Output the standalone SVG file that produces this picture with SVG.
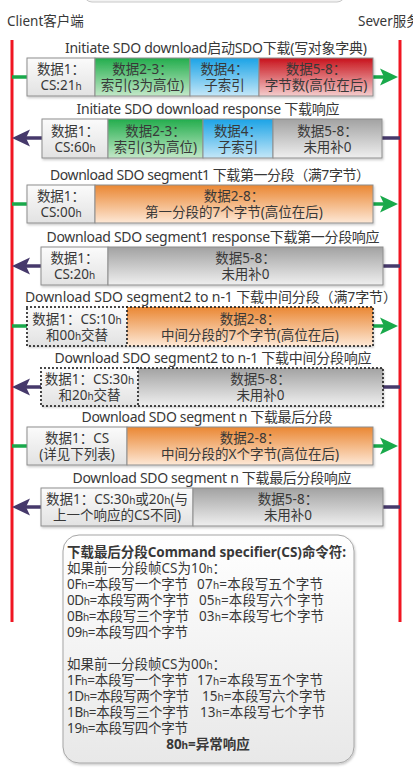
<svg xmlns="http://www.w3.org/2000/svg" width="413" height="771" viewBox="0 0 413 771">
<defs>
  <linearGradient id="gWhite" x1="0" y1="0" x2="0" y2="1"><stop offset="0" stop-color="#fbfbfb"/><stop offset="1" stop-color="#e2e2e2"/></linearGradient>
  <linearGradient id="gGreen" x1="0" y1="0" x2="0" y2="1"><stop offset="0" stop-color="#22ad4c"/><stop offset="1" stop-color="#c3e8c8"/></linearGradient>
  <linearGradient id="gBlue" x1="0" y1="0" x2="0" y2="1"><stop offset="0" stop-color="#1ba3e6"/><stop offset="1" stop-color="#c4e7f8"/></linearGradient>
  <linearGradient id="gRed" x1="0" y1="0" x2="0" y2="1"><stop offset="0" stop-color="#c8121b"/><stop offset="1" stop-color="#f4cccc"/></linearGradient>
  <linearGradient id="gOrange" x1="0" y1="0" x2="0" y2="1"><stop offset="0" stop-color="#ea8733"/><stop offset="1" stop-color="#fde8d6"/></linearGradient>
  <linearGradient id="gGrey" x1="0" y1="0" x2="0" y2="1"><stop offset="0" stop-color="#a2a2a2"/><stop offset="1" stop-color="#efefef"/></linearGradient>
  <linearGradient id="gNote" x1="0" y1="0" x2="0" y2="1"><stop offset="0" stop-color="#ffffff"/><stop offset="1" stop-color="#e8e8e8"/></linearGradient>
  <filter id="sh" x="-5%" y="-10%" width="110%" height="130%"><feDropShadow dx="1" dy="1.5" stdDeviation="1" flood-color="#000" flood-opacity="0.22"/></filter>
  <marker id="headReq" markerUnits="userSpaceOnUse" markerWidth="18" markerHeight="18" refX="4" refY="9" orient="auto"><path d="M0,0.5 L18,9 L0,17.5 L4,9 Z" fill="#19a94b"/></marker>
  <marker id="headRsp" markerUnits="userSpaceOnUse" markerWidth="18" markerHeight="18" refX="4" refY="9" orient="auto"><path d="M0,0.5 L18,9 L0,17.5 L4,9 Z" fill="#46396b"/></marker>
</defs>
<style>
  text{font-family:"Noto Sans","Noto Sans CJK SC",sans-serif;fill:#383838}
  .lbl{font-size:13.5px}
  .t{font-size:14px;text-anchor:middle}
  .c{font-size:13.5px;text-anchor:middle}
  .h{font-size:10px}
  .n{font-size:13.5px}
  .b{font-weight:bold}
  .cell{stroke:#8e8e8e;stroke-width:1}
  .dot{fill:none;stroke:#1e1e1e;stroke-width:2.2;stroke-dasharray:0 4;stroke-linecap:round}
  .life{stroke:#f01622;stroke-width:3}
  .req{stroke:#19a94b;stroke-width:3.5;fill:none}
  .rsp{stroke:#46396b;stroke-width:3.5;fill:none}
</style>

<!-- panel edge peeking in at the top -->
<rect x="84" y="-20" width="261" height="22" rx="8" fill="#f3f3f3" stroke="#c8c8c8"/>

<!-- participants -->
<g id="client">
  <text class="lbl" x="7" y="26">Client客户端</text>
  <line class="life" x1="12" y1="40" x2="12" y2="622"/>
</g>
<g id="server">
  <text class="lbl" x="358" y="26">Sever服务</text>
  <line class="life" x1="400" y1="40" x2="400" y2="622"/>
</g>

<!-- message connectors -->
<g id="connectors">
  <line class="req" x1="12" y1="77" x2="27" y2="77"/>
  <line class="req" x1="373" y1="77" x2="384" y2="77" marker-end="url(#headReq)"/>
  <line class="rsp" x1="400" y1="138" x2="382" y2="138"/>
  <line class="rsp" x1="42" y1="138" x2="26" y2="138" marker-end="url(#headRsp)"/>
  <line class="req" x1="12" y1="204" x2="27" y2="204"/>
  <line class="req" x1="373" y1="204" x2="384" y2="204" marker-end="url(#headReq)"/>
  <line class="rsp" x1="400" y1="266" x2="383" y2="266"/>
  <line class="rsp" x1="41" y1="266" x2="26" y2="266" marker-end="url(#headRsp)"/>
  <line class="req" x1="12" y1="326" x2="27" y2="326"/>
  <line class="req" x1="373" y1="326" x2="384" y2="326" marker-end="url(#headReq)"/>
  <line class="rsp" x1="400" y1="387" x2="383" y2="387"/>
  <line class="rsp" x1="41" y1="387" x2="26" y2="387" marker-end="url(#headRsp)"/>
  <line class="req" x1="12" y1="446" x2="27" y2="446"/>
  <line class="req" x1="373" y1="446" x2="384" y2="446" marker-end="url(#headReq)"/>
  <line class="rsp" x1="400" y1="507" x2="383" y2="507"/>
  <line class="rsp" x1="41" y1="507" x2="26" y2="507" marker-end="url(#headRsp)"/>
</g>

<!-- Initiate SDO download -->
<g id="initiate-download">
  <text class="t" x="216" y="53" textLength="302">Initiate SDO download启动SDO下载(写对象字典)</text>
  <g filter="url(#sh)">
    <rect class="cell" x="27" y="58" width="68" height="38" fill="url(#gWhite)"/>
    <rect class="cell" x="95" y="58" width="95" height="38" fill="url(#gGreen)"/>
    <rect class="cell" x="190" y="58" width="69" height="38" fill="url(#gBlue)"/>
    <rect class="cell" x="259" y="58" width="114" height="38" fill="url(#gRed)"/>
  </g>
  <text class="c" x="61" y="74">数据1：</text>
  <text class="c" x="61" y="90">CS:21<tspan class="h">h</tspan></text>
  <text class="c" x="142.5" y="74">数据2-3：</text>
  <text class="c" x="142.5" y="90">索引(3为高位)</text>
  <text class="c" x="224.5" y="74">数据4：</text>
  <text class="c" x="224.5" y="90">子索引</text>
  <text class="c" x="316" y="74">数据5-8：</text>
  <text class="c" x="316" y="90">字节数(高位在后)</text>
</g>

<!-- Initiate SDO download response -->
<g id="initiate-response">
  <text class="t" x="208" y="114" textLength="263">Initiate SDO download response 下载响应</text>
  <g filter="url(#sh)">
    <rect class="cell" x="42" y="119" width="66" height="39" fill="url(#gWhite)"/>
    <rect class="cell" x="108" y="119" width="95" height="39" fill="url(#gGreen)"/>
    <rect class="cell" x="203" y="119" width="70" height="39" fill="url(#gBlue)"/>
    <rect class="cell" x="273" y="119" width="109" height="39" fill="url(#gGrey)"/>
  </g>
  <text class="c" x="75" y="135.5">数据1：</text>
  <text class="c" x="75" y="151.5">CS:60<tspan class="h">h</tspan></text>
  <text class="c" x="155.5" y="135.5">数据2-3：</text>
  <text class="c" x="155.5" y="151.5">索引(3为高位)</text>
  <text class="c" x="238" y="135.5">数据4：</text>
  <text class="c" x="238" y="151.5">子索引</text>
  <text class="c" x="327.5" y="135.5">数据5-8：</text>
  <text class="c" x="327.5" y="151.5">未用补0</text>
</g>

<!-- Download SDO segment 1 -->
<g id="segment1">
  <text class="t" x="210" y="180" textLength="320">Download SDO segment1 下载第一分段（满7字节）</text>
  <g filter="url(#sh)">
    <rect class="cell" x="27" y="185" width="68" height="38" fill="url(#gWhite)"/>
    <rect class="cell" x="95" y="185" width="278" height="38" fill="url(#gOrange)"/>
  </g>
  <text class="c" x="61" y="201">数据1：</text>
  <text class="c" x="61" y="217">CS:00<tspan class="h">h</tspan></text>
  <text class="c" x="234" y="201">数据2-8：</text>
  <text class="c" x="234" y="217">第一分段的7个字节(高位在后)</text>
</g>

<!-- Download SDO segment 1 response -->
<g id="segment1-response">
  <text class="t" x="213" y="242" textLength="333">Download SDO segment1 response下载第一分段响应</text>
  <g filter="url(#sh)">
    <rect class="cell" x="41" y="247" width="67" height="38" fill="url(#gWhite)"/>
    <rect class="cell" x="108" y="247" width="275" height="38" fill="url(#gGrey)"/>
  </g>
  <text class="c" x="74.5" y="263">数据1：</text>
  <text class="c" x="74.5" y="279">CS:20<tspan class="h">h</tspan></text>
  <text class="c" x="245.5" y="263">数据5-8：</text>
  <text class="c" x="245.5" y="279">未用补0</text>
</g>

<!-- Download SDO segment 2 .. n-1 -->
<g id="segment-mid">
  <text class="t" x="211" y="302" textLength="372">Download SDO segment2 to n-1 下载中间分段（满7字节）</text>
  <g filter="url(#sh)">
    <rect x="27" y="307" width="100" height="39" fill="url(#gWhite)"/>
    <rect x="127" y="307" width="246" height="39" fill="url(#gOrange)"/>
  </g>
  <rect class="dot" x="27" y="307" width="346" height="39"/>
  <line class="dot" x1="127" y1="307" x2="127" y2="346"/>
  <text class="c" x="77" y="323.5">数据1：CS:10<tspan class="h">h</tspan></text>
  <text class="c" x="77" y="339.5">和00<tspan class="h">h</tspan>交替</text>
  <text class="c" x="250" y="323.5">数据2-8：</text>
  <text class="c" x="250" y="339.5">中间分段的7个字节(高位在后)</text>
</g>

<!-- Download SDO segment 2 .. n-1 response -->
<g id="segment-mid-response">
  <text class="t" x="213" y="363" textLength="317">Download SDO segment2 to n-1 下载中间分段响应</text>
  <g filter="url(#sh)">
    <rect x="41" y="368" width="97" height="38" fill="url(#gWhite)"/>
    <rect x="138" y="368" width="245" height="38" fill="url(#gGrey)"/>
  </g>
  <rect class="dot" x="41" y="368" width="342" height="38"/>
  <line class="dot" x1="138" y1="368" x2="138" y2="406"/>
  <text class="c" x="89.5" y="384">数据1：CS:30<tspan class="h">h</tspan></text>
  <text class="c" x="89.5" y="400">和20<tspan class="h">h</tspan>交替</text>
  <text class="c" x="260.5" y="384">数据5-8：</text>
  <text class="c" x="260.5" y="400">未用补0</text>
</g>

<!-- Download SDO segment n -->
<g id="segment-last">
  <text class="t" x="207" y="422" textLength="251">Download SDO segment n 下载最后分段</text>
  <g filter="url(#sh)">
    <rect class="cell" x="27" y="427" width="100" height="38" fill="url(#gWhite)"/>
    <rect class="cell" x="127" y="427" width="246" height="38" fill="url(#gOrange)"/>
  </g>
  <text class="c" x="77" y="443">数据1：CS</text>
  <text class="c" x="77" y="459">(详见下列表)</text>
  <text class="c" x="250" y="443">数据2-8：</text>
  <text class="c" x="250" y="459">中间分段的X个字节(高位在后)</text>
</g>

<!-- Download SDO segment n response -->
<g id="segment-last-response">
  <text class="t" x="212" y="483" textLength="279">Download SDO segment n 下载最后分段响应</text>
  <g filter="url(#sh)">
    <rect class="cell" x="41" y="488" width="152" height="38" fill="url(#gWhite)"/>
    <rect class="cell" x="193" y="488" width="190" height="38" fill="url(#gGrey)"/>
  </g>
  <text class="c" x="117" y="504">数据1：CS:30<tspan class="h">h</tspan>或20<tspan class="h">h</tspan>(与</text>
  <text class="c" x="117" y="520">上一个响应的CS不同)</text>
  <text class="c" x="288" y="504">数据5-8：</text>
  <text class="c" x="288" y="520">未用补0</text>
</g>

<!-- command specifier table -->
<g id="cs-table">
  <rect x="63" y="535" width="291" height="228" rx="16" fill="url(#gNote)" stroke="#a6a6a6" filter="url(#sh)"/>
  <text class="n b" x="67" y="557" textLength="279">下载最后分段Command specifier(CS)命令符:</text>
  <text class="n" x="67" y="573">如果前一分段帧CS为10<tspan class="h">h</tspan>：</text>
  <text class="n" x="67" y="589" textLength="121">0F<tspan class="h">h</tspan>=本段写一个字节</text>
  <text class="n" x="197" y="589" textLength="126">07<tspan class="h">h</tspan>=本段写五个字节</text>
  <text class="n" x="67" y="605" textLength="122">0D<tspan class="h">h</tspan>=本段写两个字节</text>
  <text class="n" x="199" y="605" textLength="125">05<tspan class="h">h</tspan>=本段写六个字节</text>
  <text class="n" x="67" y="621" textLength="122">0B<tspan class="h">h</tspan>=本段写三个字节</text>
  <text class="n" x="199" y="621" textLength="125">03<tspan class="h">h</tspan>=本段写七个字节</text>
  <text class="n" x="67" y="637" textLength="121">09<tspan class="h">h</tspan>=本段写四个字节</text>
  <text class="n" x="67" y="669">如果前一分段帧CS为00<tspan class="h">h</tspan>：</text>
  <text class="n" x="67" y="685" textLength="121">1F<tspan class="h">h</tspan>=本段写一个字节</text>
  <text class="n" x="197" y="685" textLength="126">17<tspan class="h">h</tspan>=本段写五个字节</text>
  <text class="n" x="67" y="701" textLength="122">1D<tspan class="h">h</tspan>=本段写两个字节</text>
  <text class="n" x="202" y="701" textLength="124">15<tspan class="h">h</tspan>=本段写六个字节</text>
  <text class="n" x="67" y="717" textLength="122">1B<tspan class="h">h</tspan>=本段写三个字节</text>
  <text class="n" x="200" y="717" textLength="125">13<tspan class="h">h</tspan>=本段写七个字节</text>
  <text class="n" x="67" y="733" textLength="121">19<tspan class="h">h</tspan>=本段写四个字节</text>
  <text class="n b" x="208" y="749" text-anchor="middle">80<tspan class="h">h</tspan>=异常响应</text>
</g>
</svg>
